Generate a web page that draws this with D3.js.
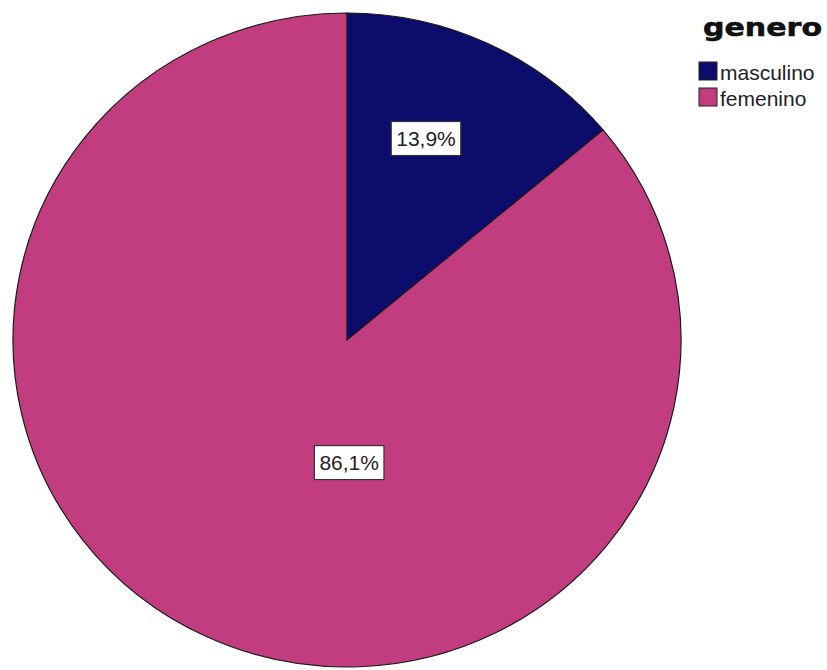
<!DOCTYPE html>
<html>
<head>
<meta charset="utf-8">
<title>genero</title>
<script src="https://d3js.org/d3.v7.min.js"></script>
<style>
  body { margin: 0; background: #fff; }
  svg { display: block; }
</style>
</head>
<body>
<svg width="827" height="670"></svg>
<script>
// data
var categories = ['masculino', 'femenino'];
var values = [13.9, 86.1];
var labels = ['13,9%', '86,1%'];
var colors = ['#0c0c6c', '#c13d7f'];
var legendTitle = 'genero';

// where SPSS puts the value boxes (angle in degrees from top, distance as fraction of radius)
var labelAngle = [21, 179];
var labelDist = [0.66, 0.375];

var svg = d3.select('svg'),
    cx = 347, cy = 340,
    rx = 334, ry = 327;

var pie = d3.pie().sort(null).value(function(d) { return d; });
var arc = d3.arc().innerRadius(0).outerRadius(rx);
var arcs = pie(values);

var g = svg.append('g')
  .attr('transform', 'translate(' + cx + ',' + cy + ') scale(1,' + (ry / rx) + ')');

g.selectAll('path')
  .data(arcs)
  .enter()
  .append('path')
  .attr('d', arc)
  .attr('fill', function(d, i) { return colors[i]; })
  .attr('stroke', '#1a1a1a')
  .attr('stroke-width', 1.2)
  .attr('vector-effect', 'non-scaling-stroke');

// value labels
var lab = svg.append('g');
labels.forEach(function(t, i) {
  var a = labelAngle[i] * Math.PI / 180;
  var x = cx + Math.sin(a) * labelDist[i] * rx,
      y = cy - Math.cos(a) * labelDist[i] * ry;
  var grp = lab.append('g').attr('transform', 'translate(' + x + ',' + y + ')');
  var txt = grp.append('text')
    .attr('text-anchor', 'middle')
    .attr('dy', '0.36em')
    .attr('font-family', 'Liberation Sans, Arial, sans-serif')
    .attr('font-size', 21)
    .attr('fill', '#222')
    .text(t);
  var w = txt.node().getComputedTextLength();
  grp.insert('rect', 'text')
    .attr('x', -w / 2 - 5)
    .attr('y', -17)
    .attr('width', w + 10)
    .attr('height', 34)
    .attr('fill', '#fff')
    .attr('stroke', '#333')
    .attr('stroke-width', 1.2);
});

// legend
var leg = svg.append('g');
leg.append('text')
  .attr('x', 703)
  .attr('y', 36)
  .attr('font-family', 'DejaVu Sans, sans-serif')
  .attr('font-weight', 900)
  .attr('font-size', 25)
  .attr('textLength', 119)
  .attr('lengthAdjust', 'spacingAndGlyphs')
  .attr('fill', '#111')
  .attr('stroke', '#111')
  .attr('stroke-width', 0.6)
  .text(legendTitle);

var items = leg.selectAll('g.item')
  .data(categories)
  .enter()
  .append('g')
  .attr('class', 'item')
  .attr('transform', function(d, i) { return 'translate(699,' + (62 + i * 26) + ')'; });

items.append('rect')
  .attr('width', 18)
  .attr('height', 18)
  .attr('fill', function(d, i) { return colors[i]; })
  .attr('stroke', '#222')
  .attr('stroke-width', 1);

items.append('text')
  .attr('x', 21)
  .attr('y', 10)
  .attr('dy', '0.36em')
  .attr('font-family', 'Liberation Sans, Arial, sans-serif')
  .attr('font-size', 21)
  .attr('fill', '#222')
  .text(function(d) { return d; });
</script>
</body>
</html>
